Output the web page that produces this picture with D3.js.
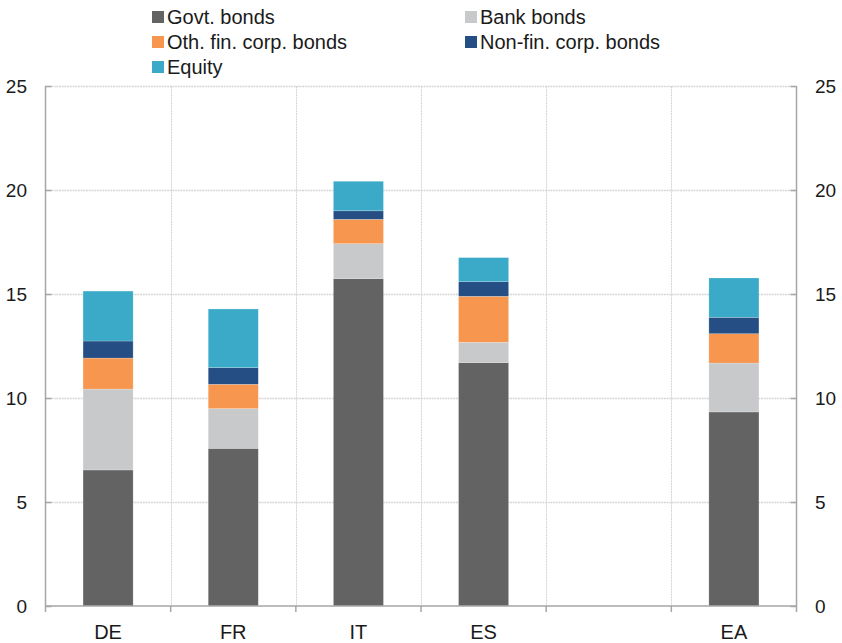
<!DOCTYPE html>
<html><head><meta charset="utf-8">
<script src="https://cdn.jsdelivr.net/npm/d3@7"></script>
<style>body{margin:0;background:#fff;} svg{display:block;} text{font-family:"Liberation Sans",Arial,sans-serif;fill:#1a1a1a;}</style>
</head><body><svg id="c" width="842" height="643"></svg>
<script>
const categories = ["DE","FR","IT","ES","","EA"];
const seriesNames = ["Govt. bonds","Bank bonds","Oth. fin. corp. bonds","Non-fin. corp. bonds","Equity"];
const seriesColors = ["#636363","#c8c9cb","#f7964f","#254f84","#3aaac8"];
const govt   = [6.54, 7.58, 15.74, 11.70, null, 9.33];
const bank   = [3.89, 1.91, 1.68, 0.98, null, 2.35];
const othFin = [1.49, 1.17, 1.17, 2.21, null, 1.41];
const nonFin = [0.82, 0.80, 0.41, 0.70, null, 0.79];
const equity = [2.40, 2.82, 1.42, 1.16, null, 1.89];
const yTicks = [0,5,10,15,20,25];

const svg = d3.select("#c");
const L = 45.5, R = 796.5, T = 86, B = 606;
const x = d3.scaleBand().domain(d3.range(categories.length)).range([L, R]).padding(0);
const y = d3.scaleLinear().domain([0,25]).range([B, T]);
const barW = x.bandwidth()*0.4;

// gridlines
const g = svg.append("g");
g.selectAll("line.h").data(yTicks.slice(1)).join("line")
  .attr("x1", L).attr("x2", R).attr("y1", d=>Math.round(y(d))+0.5).attr("y2", d=>Math.round(y(d))+0.5)
  .attr("stroke","#d6d6d6").attr("stroke-width",1.5).attr("stroke-dasharray","2,0.7");
g.selectAll("line.v").data(d3.range(1,categories.length)).join("line")
  .attr("x1", d=>Math.round(x(d))+0.5).attr("x2", d=>Math.round(x(d))+0.5).attr("y1", T).attr("y2", B)
  .attr("stroke","#d6d6d6").attr("stroke-width",1).attr("stroke-dasharray","2,0.7");

// stacked bars
const rows = categories.map((c,i)=>({i, v:[govt[i],bank[i],othFin[i],nonFin[i],equity[i]]}));
rows.forEach(r=>{
  if (r.v[0]==null) return;
  let cum = 0;
  r.v.forEach((val,k)=>{
    svg.append("rect")
      .attr("x", x(r.i)+x.bandwidth()/2-barW/2)
      .attr("width", barW)
      .attr("y", y(cum+val))
      .attr("height", y(cum)-y(cum+val))
      .attr("fill", seriesColors[k])
      .attr("stroke","rgba(255,255,255,0.35)").attr("stroke-width",0.6);
    cum += val;
  });
});

// axes
const axisColor = "#a6a6a6";
const left = svg.append("g").attr("transform",`translate(${L},0)`).call(d3.axisRight(y).tickValues(yTicks).tickSize(6).tickFormat(""));
const right = svg.append("g").attr("transform",`translate(${R},0)`).call(d3.axisLeft(y).tickValues(yTicks).tickSize(6).tickFormat(""));
[left,right].forEach(a=>{a.selectAll("path,line").attr("stroke",axisColor).attr("stroke-width",1.5); a.select(".domain").attr("d", `M0,${T}V${B}`);});
// left/right labels
svg.append("g").selectAll("text").data(yTicks).join("text")
  .attr("x", 27).attr("y", d=>y(d)).attr("dy","0.35em").attr("text-anchor","end").style("font-size","19px").text(d=>d);
svg.append("g").selectAll("text").data(yTicks).join("text")
  .attr("x", 815).attr("y", d=>y(d)).attr("dy","0.35em").attr("text-anchor","start").style("font-size","19px").text(d=>d);

// bottom axis
const bx = svg.append("g").attr("transform",`translate(0,${B})`);
bx.append("line").attr("x1",L).attr("x2",R).attr("stroke",axisColor).attr("stroke-width",1.5);
bx.selectAll("line.t").data(d3.range(0,categories.length+1)).join("line")
  .attr("x1", d=> d<categories.length? x(d): R).attr("x2", d=> d<categories.length? x(d): R)
  .attr("y1",0).attr("y2",6).attr("stroke",axisColor).attr("stroke-width",1.5);
bx.selectAll("text").data(categories).join("text")
  .attr("x",(d,i)=>x(i)+x.bandwidth()/2).attr("y",33).attr("text-anchor","middle").style("font-size","20px").text(d=>d);

// legend
const legPos = [[152,17],[465,17],[152,42],[465,42],[152,67]];
const leg = svg.append("g");
seriesNames.forEach((n,k)=>{
  const [lx,ly] = legPos[k];
  leg.append("rect").attr("x",lx).attr("y",ly-6).attr("width",12).attr("height",12).attr("fill",seriesColors[k]);
  leg.append("text").attr("x",lx+15).attr("y",ly).attr("dy","0.35em").style("font-size","20px").text(n);
});
</script></body></html>
